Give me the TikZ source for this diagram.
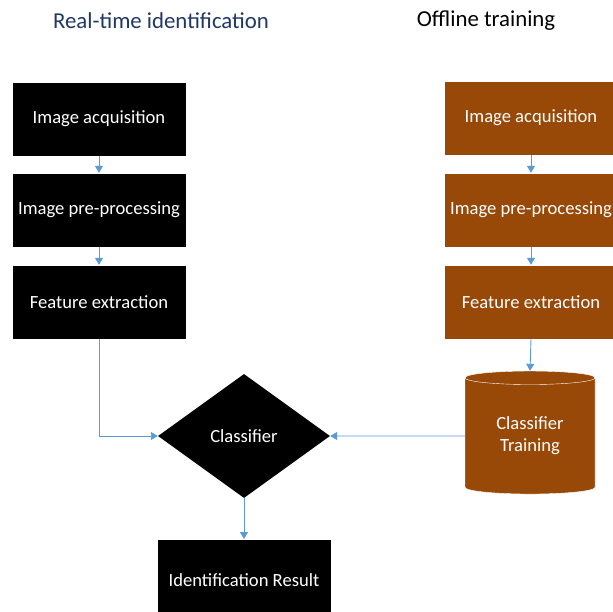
\documentclass[tikz,border=0pt]{standalone}
\usepackage{fontspec}
\setmainfont{Carlito}
\usepackage{xcolor}
\usepackage{tikz}
\usetikzlibrary{positioning,shapes,fit}
\usetikzlibrary{calc}
\usetikzlibrary{arrows.meta}
\definecolor{rustbrown}{RGB}{152,72,7}
\definecolor{linkblue}{RGB}{91,155,213}
\definecolor{titleblue}{RGB}{31,56,100}

\begin{document}
\begin{tikzpicture}[x=1pt,y=-1pt]
			\tikzset{
				stagebox/.style={draw=white,line width=0.4pt,fill=black,text=white,minimum width=174pt,minimum height=74pt,inner sep=0pt,font=\fontsize{18.6}{22}\selectfont},
				trainbox/.style={stagebox,fill=rustbrown},
				heading/.style={font=\fontsize{22.8}{26}\selectfont},
				link/.style={-{Triangle[width=8pt,length=7pt]},linkblue,line width=0.9pt},
			}
			\clip (0,0) rectangle (613,612);
			\fill[white] (0,0) rectangle (613,612);

			\node[heading,text=titleblue] (rt) at (161,21) {Real-time identification};
			\node[heading] (off) at (486,21) {Offline training};

			\node[stagebox] (acq) at (99,119) {Image acquisition};
			\node[stagebox] (pre) at (99,210) {Image pre-processing};
			\node[stagebox] (feat) at (99,302) {Feature extraction};

			\node[trainbox] (tacq) at (531,118) {Image acquisition};
			\node[trainbox] (tpre) at (531,210) {Image pre-processing};
			\node[trainbox] (tfeat) at (531,302) {Feature extraction};

			\node[cylinder,shape border rotate=90,aspect=0.2,draw=white,fill=rustbrown,text=white,
				minimum width=130pt,minimum height=123pt,inner sep=0pt,align=center,
				font=\fontsize{18.6}{22}\selectfont] (train) at (530,436) {Classifier\\Training};

			\node[diamond,fill=black,text=white,minimum width=172pt,minimum height=124pt,inner sep=0pt,
				font=\fontsize{18.6}{22}\selectfont] (cls) at (244,436) {Classifier};

			\node[stagebox,anchor=north,minimum height=82pt] (res) at (244,539) {Identification Result};

			\draw[link] (acq) -- (pre);
			\draw[link] (pre) -- (feat);
			\draw[link] (tacq) -- (tpre);
			\draw[link] (tpre) -- (tfeat);
			\draw[link] (tfeat.south) -- (train.north);
			\draw[link] (feat.south) |- (cls.west);
			\draw[link] (train.west) -- (cls.east);
			\draw[link] (cls.south) -- (res.north);
		\end{tikzpicture}
\end{document}
